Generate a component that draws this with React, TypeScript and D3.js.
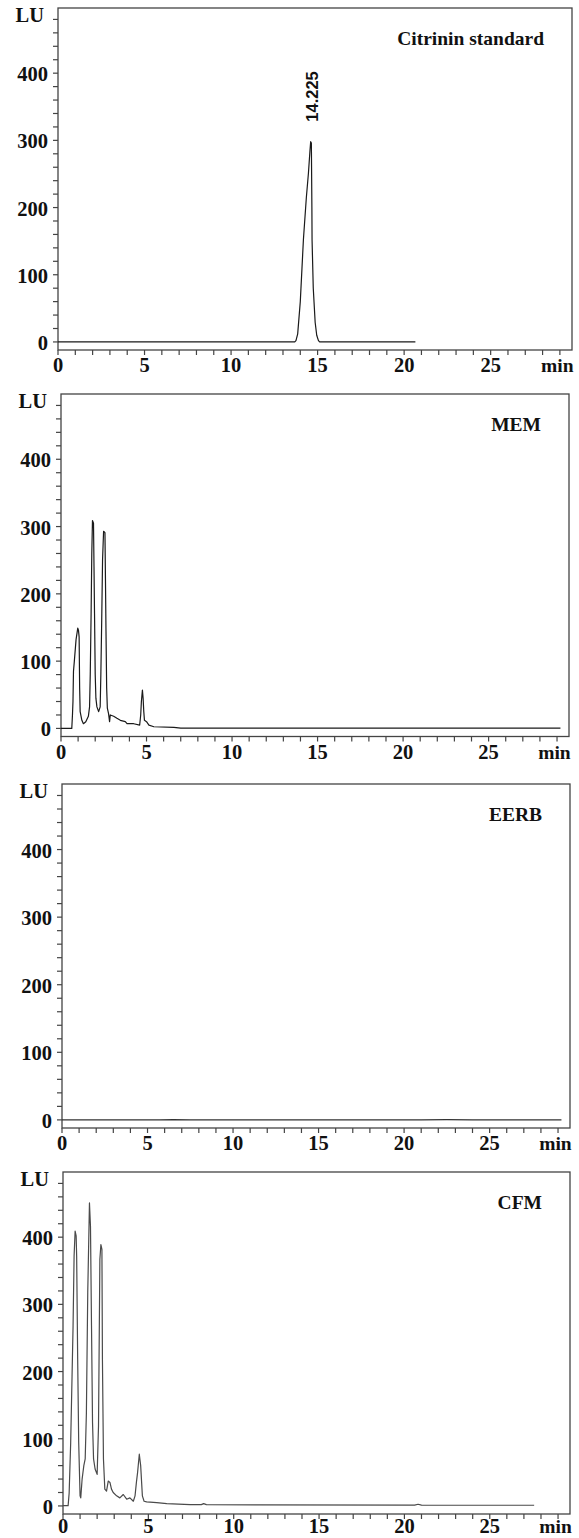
import React from 'react';
import * as d3 from 'd3';

// ---------- data ----------
const panelTitles = ['Citrinin standard', 'MEM', 'EERB', 'CFM'];
const yTickValues = [0, 100, 200, 300, 400];
const xTickValues = [0, 5, 10, 15, 20, 25];
const yUnit = 'LU';
const xUnit = 'min';
const peakLabel = '14.225';
const peakLabelTime = 14.6;
const peakLabelHeight = 298;

// [retention time (min), signal (LU)]
const standardTrace: [number, number][] = [
  [0, 0], [13.68, 0], [13.75, 2], [13.85, 12], [14.0, 60], [14.18, 152], [14.35, 215],
  [14.47, 251], [14.56, 285], [14.6, 298], [14.64, 296], [14.67, 200], [14.68, 152],
  [14.75, 80], [14.86, 29], [14.95, 10], [15.05, 2], [15.12, 0], [20.65, 0],
];

const memTrace: [number, number][] = [
  [0, 0], [0.63, 0], [0.67, 20], [0.7, 40], [0.73, 85], [0.78, 100], [0.88, 132], [0.98, 149],
  [1.02, 146], [1.06, 136], [1.09, 60], [1.12, 25], [1.22, 12], [1.31, 7], [1.45, 10], [1.6, 18],
  [1.67, 32], [1.71, 80], [1.76, 170], [1.8, 260], [1.84, 309], [1.9, 305], [1.93, 240],
  [1.96, 171], [2.0, 80], [2.04, 45], [2.1, 32], [2.2, 25], [2.29, 32], [2.33, 80], [2.38, 160],
  [2.43, 251], [2.49, 293], [2.57, 291], [2.6, 220], [2.63, 146], [2.67, 60], [2.71, 30],
  [2.78, 22], [2.84, 10], [2.88, 20], [3.08, 18], [3.27, 15], [3.47, 12], [3.76, 10], [3.86, 7],
  [4.25, 7], [4.6, 5], [4.66, 20], [4.7, 40], [4.76, 57], [4.8, 45], [4.84, 25], [4.88, 12],
  [5.0, 10], [5.14, 5], [5.43, 2.5], [6.6, 1.5], [7.0, 0.5], [29.2, 0.5],
];

const eerbTrace: [number, number][] = [
  [0, 0], [5.7, 0], [6.5, 0.3], [7.5, 0], [21.0, 0], [22.5, 0.3], [24.0, 0], [29.2, 0],
];

const cfmTrace: [number, number][] = [
  [0, 0.5], [0.3, 0.5], [0.36, 19], [0.45, 94], [0.53, 193], [0.59, 268], [0.65, 372],
  [0.71, 409], [0.77, 402], [0.8, 372], [0.86, 218], [0.92, 94], [1.0, 15], [1.04, 12],
  [1.12, 40], [1.22, 60], [1.3, 70], [1.37, 138], [1.45, 318], [1.55, 451], [1.61, 416],
  [1.67, 268], [1.73, 124], [1.79, 70], [1.88, 55], [2.0, 47], [2.08, 119], [2.16, 367],
  [2.22, 389], [2.28, 382], [2.31, 218], [2.37, 70], [2.45, 25], [2.55, 22], [2.65, 37],
  [2.75, 35], [2.84, 25], [2.94, 20], [3.14, 15], [3.33, 12], [3.53, 17], [3.73, 10],
  [3.92, 12], [4.12, 7], [4.22, 15], [4.3, 35], [4.37, 50], [4.47, 77], [4.55, 60], [4.65, 15],
  [4.75, 7], [4.9, 6], [5.49, 5], [6.08, 3.5], [7.45, 2], [8.1, 2], [8.24, 3.5], [8.4, 2],
  [11.57, 1.5], [20.6, 1.2], [20.8, 2.5], [21.0, 1.2], [27.6, 1],
];

const traces = [standardTrace, memTrace, eerbTrace, cfmTrace];

// ---------- layout ----------
const W = 579;
const H = 1538;
const frames = [
  { left: 58, right: 572, top: 8, bottom: 350, labelDy: 22 },
  { left: 61, right: 569, top: 394, bottom: 736.5, labelDy: 22 },
  { left: 62, right: 570, top: 784, bottom: 1128, labelDy: 22 },
  { left: 63, right: 570, top: 1172, bottom: 1514, labelDy: 19 },
];
const lineColors = ['#1a1a1a', '#1a1a1a', '#333', '#4a4a4a'];
const X_DOMAIN: [number, number] = [0, 29.7];
const Y_DOMAIN: [number, number] = [-12, 497];
const SERIF = '"Liberation Serif", "Times New Roman", serif';
const SANS = '"Liberation Sans", Arial, sans-serif';
const TICK_FS = 20.5;

function Panel({ idx }: { idx: number }) {
  const f = frames[idx];
  const x = d3.scaleLinear().domain(X_DOMAIN).range([f.left, f.right]);
  const y = d3.scaleLinear().domain(Y_DOMAIN).range([f.bottom, f.top]);
  const line = d3
    .line<[number, number]>()
    .x((d) => x(d[0]))
    .y((d) => y(d[1]));
  const yMinor = d3.range(0, 481, 20);
  const xMinor = d3.range(0, 30, 1);
  return (
    <g>
      <rect
        x={f.left}
        y={f.top}
        width={f.right - f.left}
        height={f.bottom - f.top}
        fill="none"
        stroke="#444"
        strokeWidth={1.3}
      />
      {yMinor.map((v) => (
        <line key={'yt' + v} x1={f.left - 5} x2={f.left} y1={y(v)} y2={y(v)} stroke="#444" strokeWidth={1.2} />
      ))}
      {xMinor.map((v) => (
        <line key={'xt' + v} x1={x(v)} x2={x(v)} y1={f.bottom} y2={f.bottom + 5} stroke="#444" strokeWidth={1.2} />
      ))}
      {yTickValues.map((v) => (
        <text
          key={'yl' + v}
          x={f.left - 10}
          y={y(v) + 8}
          textAnchor="end"
          fontFamily={SERIF}
          fontWeight="bold"
          fontSize={TICK_FS}
          fill="#111"
        >
          {v}
        </text>
      ))}
      <text x={f.left - 14} y={y(486) + 7} textAnchor="end" fontFamily={SERIF} fontWeight="bold" fontSize={TICK_FS} fill="#111">
        {yUnit}
      </text>
      {xTickValues.map((v) => (
        <text
          key={'xl' + v}
          x={x(v)}
          y={f.bottom + f.labelDy}
          textAnchor="middle"
          fontFamily={SERIF}
          fontWeight="bold"
          fontSize={TICK_FS}
          fill="#111"
        >
          {v}
        </text>
      ))}
      <text x={x(28.85)} y={f.bottom + f.labelDy} textAnchor="middle" fontFamily={SERIF} fontWeight="bold" fontSize={19.5} fill="#111">
        {xUnit}
      </text>
      <text x={f.right - 28} y={f.top + 37} textAnchor="end" fontFamily={SERIF} fontWeight="bold" fontSize={19.5} fill="#111">
        {panelTitles[idx]}
      </text>
      <path d={line(traces[idx]) || ''} fill="none" stroke={lineColors[idx]} strokeWidth={1.2} strokeLinejoin="round" />
      {idx === 0 && (
        <text
          transform={`translate(${x(peakLabelTime) + 7},${y(peakLabelHeight) - 20}) rotate(-90)`}
          fontFamily={SANS}
          fontWeight="bold"
          fontSize={16.5}
          fill="#111"
        >
          {peakLabel}
        </text>
      )}
    </g>
  );
}

export default function App() {
  return (
    <svg
      width={W}
      height={H}
      viewBox={`0 0 ${W} ${H}`}
      style={{ position: 'absolute', left: 0, top: 0, background: '#fff' }}
    >
      <rect x={0} y={0} width={W} height={H} fill="#fff" />
      {frames.map((_, i) => (
        <Panel key={i} idx={i} />
      ))}
    </svg>
  );
}
